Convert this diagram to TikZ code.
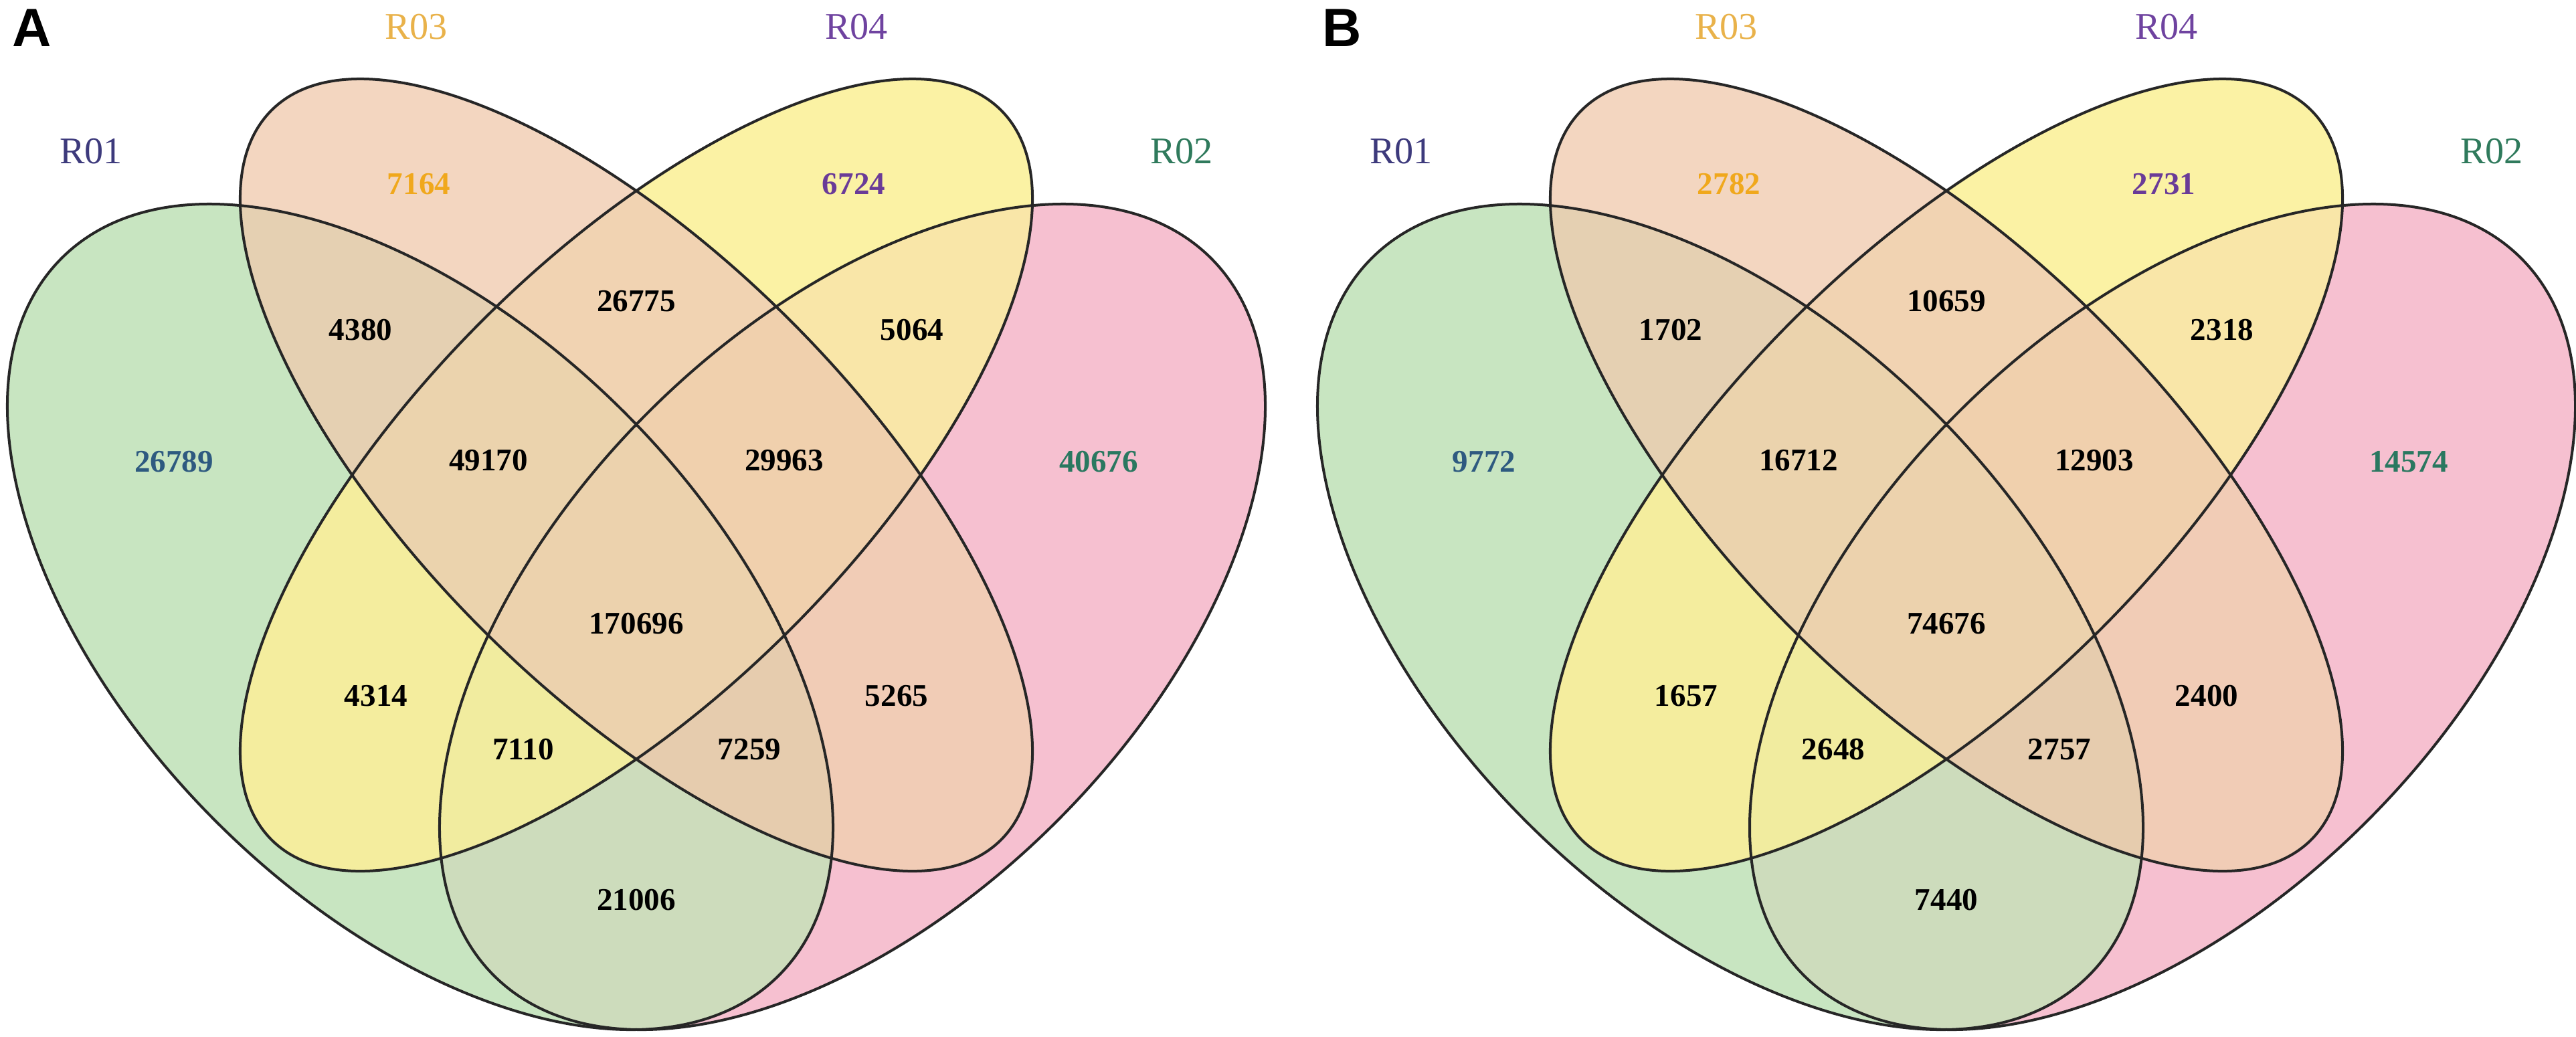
\documentclass[tikz,border=0pt]{standalone}
\usepackage{fontspec}
\setmainfont{Liberation Serif}
\newfontfamily\panelfont{Liberation Sans}
\definecolor{cG}{HTML}{C8E5C1}
\definecolor{cP}{HTML}{F6C0D0}
\definecolor{cO}{HTML}{F3D6C0}
\definecolor{cY}{HTML}{FBF2A4}
\definecolor{cGP}{HTML}{CDDCBC}
\definecolor{cGO}{HTML}{E5D0B2}
\definecolor{cGY}{HTML}{F4ED9E}
\definecolor{cPO}{HTML}{F1CCB6}
\definecolor{cPY}{HTML}{F9E6A8}
\definecolor{cOY}{HTML}{F1D3B2}
\definecolor{cGOY}{HTML}{EBD3AD}
\definecolor{cPOY}{HTML}{F0D0AD}
\definecolor{cGPY}{HTML}{F1EC9F}
\definecolor{cGPO}{HTML}{E6CCAE}
\definecolor{cAll}{HTML}{ECD2AD}
\definecolor{tOne}{HTML}{3D3A7C}
\definecolor{nOne}{HTML}{2E5A80}
\definecolor{tThree}{HTML}{E9B24A}
\definecolor{nThree}{HTML}{F0A81C}
\definecolor{tFour}{HTML}{6F43A0}
\definecolor{nFour}{HTML}{6A3B98}
\definecolor{tTwo}{HTML}{2F7A5C}
\definecolor{nTwo}{HTML}{2A7860}
\def\vpA{(6.28,-9.22) ellipse [x radius=7.58, y radius=4.32, rotate=-45]}
\def\vpB{(12.74,-9.22) ellipse [x radius=7.58, y radius=4.32, rotate=45]}
\def\vpC{(9.51,-7.10) ellipse [x radius=7.71, y radius=3.26, rotate=-45]}
\def\vpD{(9.51,-7.10) ellipse [x radius=7.71, y radius=3.26, rotate=45]}
\newcommand\vfillTwo[3]{\begin{scope}\clip #2; \fill[#1] #3; \end{scope}}
\newcommand\vfillThree[4]{\begin{scope}\clip #2; \clip #3; \fill[#1] #4; \end{scope}}
\newcommand\vfillFour[5]{\begin{scope}\clip #2; \clip #3; \clip #4; \fill[#1] #5; \end{scope}}
\newcommand\vennshapes{%
  \fill[cG] \vpA; \fill[cP] \vpB; \fill[cO] \vpC; \fill[cY] \vpD;
  \vfillTwo{cGP}{\vpA}{\vpB}
  \vfillTwo{cGO}{\vpA}{\vpC}
  \vfillTwo{cGY}{\vpA}{\vpD}
  \vfillTwo{cPO}{\vpB}{\vpC}
  \vfillTwo{cPY}{\vpB}{\vpD}
  \vfillTwo{cOY}{\vpC}{\vpD}
  \vfillThree{cGOY}{\vpA}{\vpC}{\vpD}
  \vfillThree{cPOY}{\vpB}{\vpC}{\vpD}
  \vfillThree{cGPY}{\vpA}{\vpB}{\vpD}
  \vfillThree{cGPO}{\vpA}{\vpB}{\vpC}
  \vfillFour{cAll}{\vpA}{\vpB}{\vpC}{\vpD}
  \draw[outline] \vpA; \draw[outline] \vpB; \draw[outline] \vpC; \draw[outline] \vpD;
}
\begin{document}
\begin{tikzpicture}[
  num/.style={font=\fontsize{13.4}{15}\selectfont\bfseries, text=black, inner sep=0pt},
  cat/.style={font=\fontsize{16}{18}\selectfont, inner sep=0pt},
  panel/.style={font=\panelfont\fontsize{23}{26}\selectfont\bfseries, inner sep=0pt},
  outline/.style={draw=black!85, line width=0.04cm}
]
\useasboundingbox (0,0) rectangle (38.5,-15.49);
\fill[white] (0,0) rectangle (38.5,-15.49);
% Panel A
\begin{scope}
  \vennshapes
  \node[panel] (aLab) at (0.48,-0.42) {A};
  \node[cat, text=tOne] (aR01) at (1.36,-2.26) {R01};
  \node[cat, text=tThree] (aR03) at (6.22,-0.40) {R03};
  \node[cat, text=tFour] (aR04) at (12.80,-0.40) {R04};
  \node[cat, text=tTwo] (aR02) at (17.66,-2.26) {R02};
  \node[num, text=nThree] (a1) at (6.26,-2.75) {7164};
  \node[num, text=nFour] (a2) at (12.76,-2.75) {6724};
  \node[num] (a3) at (5.39,-4.93) {4380};
  \node[num] (a4) at (9.51,-4.50) {26775};
  \node[num] (a5) at (13.63,-4.93) {5064};
  \node[num, text=nOne] (a6) at (2.60,-6.90) {26789};
  \node[num] (a7) at (7.30,-6.88) {49170};
  \node[num] (a8) at (11.72,-6.88) {29963};
  \node[num, text=nTwo] (a9) at (16.42,-6.90) {40676};
  \node[num] (a10) at (9.51,-9.32) {170696};
  \node[num] (a11) at (5.62,-10.40) {4314};
  \node[num] (a12) at (13.40,-10.40) {5265};
  \node[num] (a13) at (7.82,-11.20) {7110};
  \node[num] (a14) at (11.20,-11.20) {7259};
  \node[num] (a15) at (9.51,-13.45) {21006};
\end{scope}
% Panel B
\begin{scope}[xshift=19.58cm]
  \vennshapes
  \node[panel] (bLab) at (0.48,-0.42) {B};
  \node[cat, text=tOne] (bR01) at (1.36,-2.26) {R01};
  \node[cat, text=tThree] (bR03) at (6.22,-0.40) {R03};
  \node[cat, text=tFour] (bR04) at (12.80,-0.40) {R04};
  \node[cat, text=tTwo] (bR02) at (17.66,-2.26) {R02};
  \node[num, text=nThree] (b1) at (6.26,-2.75) {2782};
  \node[num, text=nFour] (b2) at (12.76,-2.75) {2731};
  \node[num] (b3) at (5.39,-4.93) {1702};
  \node[num] (b4) at (9.51,-4.50) {10659};
  \node[num] (b5) at (13.63,-4.93) {2318};
  \node[num, text=nOne] (b6) at (2.60,-6.90) {9772};
  \node[num] (b7) at (7.30,-6.88) {16712};
  \node[num] (b8) at (11.72,-6.88) {12903};
  \node[num, text=nTwo] (b9) at (16.42,-6.90) {14574};
  \node[num] (b10) at (9.51,-9.32) {74676};
  \node[num] (b11) at (5.62,-10.40) {1657};
  \node[num] (b12) at (13.40,-10.40) {2400};
  \node[num] (b13) at (7.82,-11.20) {2648};
  \node[num] (b14) at (11.20,-11.20) {2757};
  \node[num] (b15) at (9.51,-13.45) {7440};
\end{scope}
\end{tikzpicture}
\end{document}
